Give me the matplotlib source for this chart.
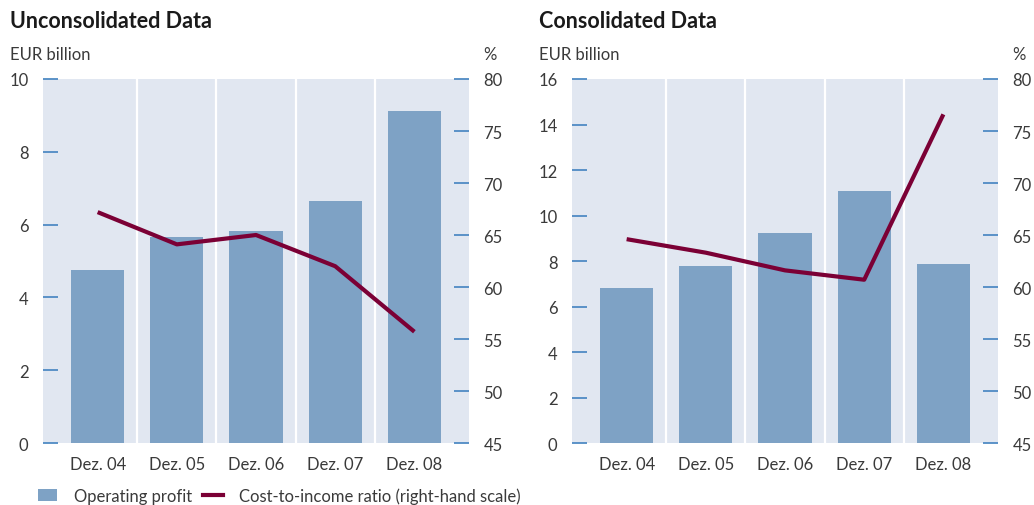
import matplotlib.pyplot as plt
from matplotlib.patches import Patch
from matplotlib.lines import Line2D

plt.rcParams["font.family"] = ["Lato", "DejaVu Sans"]

# data
periods = ["Dez. 04", "Dez. 05", "Dez. 06", "Dez. 07", "Dez. 08"]
unconsolidated_profit = [4.75, 5.66, 5.82, 6.65, 9.12]
unconsolidated_cir = [67.2, 64.1, 65.0, 62.0, 55.7]
consolidated_profit = [6.81, 7.78, 9.23, 11.08, 7.87]
consolidated_cir = [64.6, 63.3, 61.6, 60.7, 76.6]

panels = [
    ("Unconsolidated Data", unconsolidated_profit, unconsolidated_cir, 10, 0.0416),
    ("Consolidated Data", consolidated_profit, consolidated_cir, 16, 0.5532),
]

BAR = "#7ea2c5"
BG = "#e1e7f1"
LINE = "#7b0035"
TICK = "#4f8bc4"
TXT = "#3a3a3a"

fig = plt.figure(figsize=(10.34, 5.06), dpi=100)

for title, profit, cir, ymax, left in panels:
    ax = fig.add_axes([left, 0.1225, 0.412, 0.7194])
    ax.set_facecolor(BG)
    x = range(len(periods))
    ax.bar(x, profit, width=0.67, color=BAR, zorder=2)
    for b in [0.5, 1.5, 2.5, 3.5]:
        ax.axvline(b, color="white", lw=1.6, zorder=1)
    ax.set_xlim(-0.69, 4.69)
    ax.set_ylim(0, ymax)
    ax.set_yticks(range(0, ymax + 1, 2))
    ax.set_xticks(list(x))
    ax.set_xticklabels(periods)
    for s in ax.spines.values():
        s.set_visible(False)
    ax.tick_params(axis="y", direction="in", length=10.8, width=1.3, color=TICK,
                   pad=10.5, labelsize=12, labelcolor=TXT)
    ax.tick_params(axis="x", length=0, pad=9, labelsize=12, labelcolor=TXT)

    ax2 = ax.twinx()
    ax2.plot(x, cir, color=LINE, lw=3, solid_capstyle="butt")
    ax2.set_ylim(45, 80)
    ax2.set_yticks(range(45, 81, 5))
    for s in ax2.spines.values():
        s.set_visible(False)
    ax2.tick_params(axis="y", direction="in", length=10.8, width=1.3, color=TICK,
                    pad=10.5, labelsize=12, labelcolor=TXT)

    fig.text(left - 0.032, 0.945, title, fontsize=15.5, fontweight="bold",
             color="#1a1a1a", va="baseline")
    fig.text(left - 0.032, 0.882, "EUR billion", fontsize=12, color=TXT, va="baseline")
    fig.text(left + 0.412 + 0.027, 0.882, "%", fontsize=12, color=TXT,
             va="baseline", ha="right")

handles = [
    Patch(facecolor=BAR, edgecolor="none", label="Operating profit"),
    Line2D([], [], color=LINE, lw=3, label="Cost-to-income ratio (right-hand scale)"),
]
fig.legend(handles=handles, loc="lower left", bbox_to_anchor=(0.022, -0.028), ncol=2,
           frameon=False, fontsize=12, handlelength=1.15, handleheight=0.75,
           handletextpad=1.0, columnspacing=0.7, labelcolor=TXT)

fig.savefig("out.png", dpi=100)
